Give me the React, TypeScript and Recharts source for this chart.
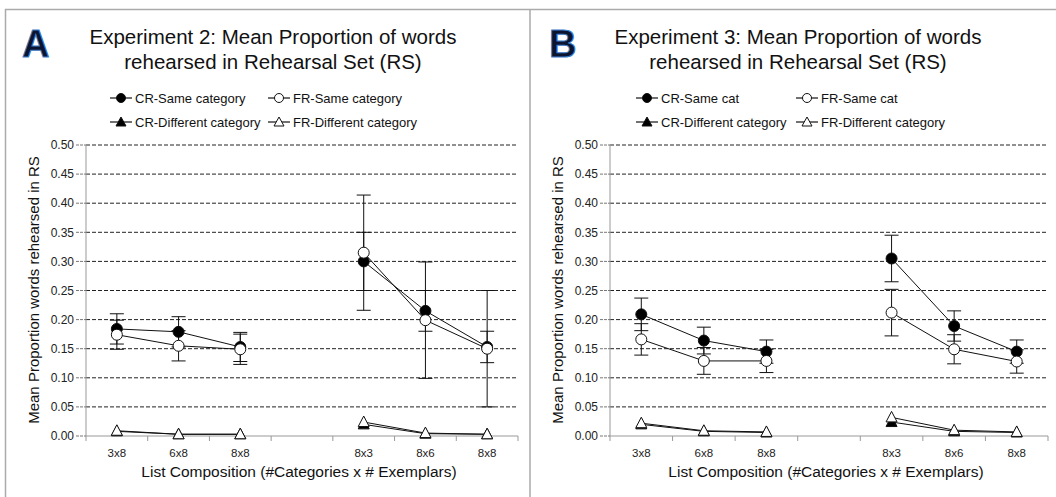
import React from "react";
import { LineChart, Line, XAxis, YAxis, CartesianGrid, ErrorBar } from "recharts";

const FONT = "'Liberation Sans', Arial, Helvetica, sans-serif";

// Categories (blank slot separates the two list-composition groups)
const categories = ["3x8", "6x8", "8x8", "", "8x3", "8x6", "8x8"];
const yTicks = [0, 0.05, 0.1, 0.15, 0.2, 0.25, 0.3, 0.35, 0.4, 0.45, 0.5];

// Experiment 2 (panel A)
const crSameA = [0.184, 0.179, 0.153, null, 0.3, 0.215, 0.153];
const crSameErrA = [0.026, 0.026, 0.025, null, 0.05, 0.035, 0.027];
const frSameA = [0.174, 0.155, 0.149, null, 0.315, 0.199, 0.15];
const frSameErrA = [0.025, 0.026, 0.026, null, 0.099, 0.1, 0.1];
const crDiffA = [0.008, 0.003, 0.003, null, 0.02, 0.004, 0.003];
const frDiffA = [0.009, 0.003, 0.003, null, 0.024, 0.005, 0.003];

// Experiment 3 (panel B)
const crSameB = [0.209, 0.164, 0.145, null, 0.305, 0.189, 0.145];
const crSameErrB = [0.028, 0.023, 0.02, null, 0.04, 0.026, 0.02];
const frSameB = [0.166, 0.129, 0.129, null, 0.212, 0.149, 0.128];
const frSameErrB = [0.027, 0.023, 0.02, null, 0.04, 0.025, 0.02];
const crDiffB = [0.02, 0.008, 0.006, null, 0.024, 0.008, 0.006];
const frDiffB = [0.022, 0.009, 0.007, null, 0.032, 0.01, 0.007];

const buildRows = (cr, crErr, fr, frErr, crd, frd) =>
  categories.map((c, i) => {
    const row: any = { slot: i, crSame: cr[i], frSame: fr[i], crDiff: crd[i], frDiff: frd[i] };
    if (crErr[i] != null) row.crSameErr = crErr[i];
    if (frErr[i] != null) row.frSameErr = frErr[i];
    return row;
  });

const rowsA = buildRows(crSameA, crSameErrA, frSameA, frSameErrA, crDiffA, frDiffA);
const rowsB = buildRows(crSameB, crSameErrB, frSameB, frSameErrB, crDiffB, frDiffB);

const makeCircle = (fill: string) => (props: any) => {
  const { cx, cy, index } = props;
  if (cx == null || cy == null || isNaN(cy)) return <g key={`e${index}`} />;
  return <circle key={`c${index}`} cx={cx} cy={cy} r={5.5} fill={fill} stroke="#111" strokeWidth={1} />;
};
const makeTri = (fill: string) => (props: any) => {
  const { cx, cy, index } = props;
  if (cx == null || cy == null || isNaN(cy)) return <g key={`e${index}`} />;
  const pts = `${cx},${cy - 6} ${cx - 5.5},${cy + 4.5} ${cx + 5.5},${cy + 4.5}`;
  return <polygon key={`t${index}`} points={pts} fill={fill} stroke="#111" strokeWidth={1} />;
};

const FilledDot = makeCircle("#000");
const OpenDot = makeCircle("#fff");
const FilledTri = makeTri("#000");
const OpenTri = makeTri("#fff");

const makeXTick = (half: number) => (props: any) => {
  const { x, y, payload, index } = props;
  const label = categories[Number(payload.value)] ?? "";
  return (
    <g>
      <line x1={x - half} y1={y} x2={x - half} y2={y + 5} stroke="#999" />
      {index === categories.length - 1 && (
        <line x1={x + half} y1={y} x2={x + half} y2={y + 5} stroke="#999" />
      )}
      <text x={x} y={y + 21} textAnchor="middle" fontSize={11.5} fill="#222" fontFamily={FONT}>
        {label}
      </text>
    </g>
  );
};

const Panel = ({ rows, left, width, yAxisWidth, right }: any) => {
  const plotW = width - yAxisWidth - right;
  const half = plotW / categories.length / 2;
  const XTick = makeXTick(half);
  return (
    <div style={{ position: "absolute", left, top: 0 }}>
      <LineChart
        width={width}
        height={497}
        data={rows}
        margin={{ top: 145, right, bottom: 31, left: 0 }}
      >
        <CartesianGrid
          horizontal={true}
          vertical={false}
          stroke="#222"
          strokeDasharray="4 2"
          horizontalValues={yTicks.slice(1)}
        />
        <XAxis
          dataKey="slot"
          type="category"
          scale="band"
          interval={0}
          height={30}
          tickSize={0}
          tickMargin={0}
          tickLine={false}
          axisLine={{ stroke: "#999" }}
          tick={XTick}
        />
        <YAxis
          width={yAxisWidth}
          domain={[0, 0.5]}
          ticks={yTicks}
          type="number"
          tickSize={10}
          tickMargin={2}
          tickLine={{ stroke: "#777", strokeDasharray: "3 1" }}
          axisLine={{ stroke: "#999" }}
          tickFormatter={(v: number) => v.toFixed(2)}
          tick={{ fontSize: 12, fill: "#222", fontFamily: FONT }}
        />
        <Line dataKey="crSame" stroke="#111" strokeWidth={1} dot={FilledDot} isAnimationActive={false} activeDot={false}>
          <ErrorBar dataKey="crSameErr" width={7} stroke="#111" strokeWidth={1} direction="y" />
        </Line>
        <Line dataKey="frSame" stroke="#111" strokeWidth={1} dot={OpenDot} isAnimationActive={false} activeDot={false}>
          <ErrorBar dataKey="frSameErr" width={7} stroke="#111" strokeWidth={1} direction="y" />
        </Line>
        <Line dataKey="crDiff" stroke="#111" strokeWidth={1} dot={FilledTri} isAnimationActive={false} activeDot={false} />
        <Line dataKey="frDiff" stroke="#111" strokeWidth={1} dot={OpenTri} isAnimationActive={false} activeDot={false} />
      </LineChart>
    </div>
  );
};

const LegendItem = ({ x, y, kind, label }: any) => {
  const mx = x + 11;
  let marker;
  if (kind === "fc") marker = <circle cx={mx} cy={y} r={4.5} fill="#000" stroke="#111" />;
  else if (kind === "oc") marker = <circle cx={mx} cy={y} r={4.5} fill="#fff" stroke="#111" />;
  else {
    const pts = `${mx},${y - 5} ${mx - 5},${y + 4} ${mx + 5},${y + 4}`;
    marker = <polygon points={pts} fill={kind === "ft" ? "#000" : "#fff"} stroke="#111" />;
  }
  return (
    <g>
      <line x1={x} y1={y} x2={x + 22} y2={y} stroke="#111" strokeWidth={1.2} />
      {marker}
      <text x={x + 25} y={y + 4.5} fontSize={13} fill="#111" fontFamily={FONT}>
        {label}
      </text>
    </g>
  );
};

const Overlay = () => (
  <svg width={1056} height={497} style={{ position: "absolute", left: 0, top: 0, pointerEvents: "none" }}>
    {/* frame */}
    <line x1={5} y1={9.5} x2={1056} y2={9.5} stroke="#aaa" strokeWidth={1.5} />
    <line x1={5.5} y1={9} x2={5.5} y2={497} stroke="#aaa" strokeWidth={1.5} />
    <line x1={530} y1={9} x2={530} y2={497} stroke="#aaa" strokeWidth={1.5} />

    {/* panel letters */}
    <text x={22} y={57} fontSize={38} fontWeight="bold" fill="#0b1530" stroke="#3d7cc9" strokeWidth={1} fontFamily={FONT}>A</text>
    <text x={549} y={57} fontSize={38} fontWeight="bold" fill="#0b1530" stroke="#3d7cc9" strokeWidth={1} fontFamily={FONT}>B</text>

    {/* titles */}
    <text x={273} y={44} textAnchor="middle" fontSize={20.5} fill="#111" fontFamily={FONT}>
      Experiment 2: Mean Proportion of words
    </text>
    <text x={273} y={69} textAnchor="middle" fontSize={20.5} fill="#111" fontFamily={FONT}>
      rehearsed in Rehearsal Set (RS)
    </text>
    <text x={798} y={44} textAnchor="middle" fontSize={20.5} fill="#111" fontFamily={FONT}>
      Experiment 3: Mean Proportion of words
    </text>
    <text x={798} y={69} textAnchor="middle" fontSize={20.5} fill="#111" fontFamily={FONT}>
      rehearsed in Rehearsal Set (RS)
    </text>

    {/* legends */}
    <LegendItem x={110} y={98} kind="fc" label="CR-Same category" />
    <LegendItem x={268} y={98} kind="oc" label="FR-Same category" />
    <LegendItem x={110} y={122} kind="ft" label="CR-Different category" />
    <LegendItem x={268} y={122} kind="ot" label="FR-Different category" />

    <LegendItem x={636} y={98} kind="fc" label="CR-Same cat" />
    <LegendItem x={796} y={98} kind="oc" label="FR-Same cat" />
    <LegendItem x={636} y={122} kind="ft" label="CR-Different category" />
    <LegendItem x={796} y={122} kind="ot" label="FR-Different category" />

    {/* axis titles */}
    <text transform="translate(33,290) rotate(-90)" textAnchor="middle" dominantBaseline="central" fontSize={15} fill="#111" fontFamily={FONT}>
      Mean Proportion words rehearsed in RS
    </text>
    <text transform="translate(557,290) rotate(-90)" textAnchor="middle" dominantBaseline="central" fontSize={15} fill="#111" fontFamily={FONT}>
      Mean Proportion words rehearsed in RS
    </text>
    <text x={299} y={477} textAnchor="middle" fontSize={15.5} fill="#111" fontFamily={FONT}>
      List Composition (#Categories x # Exemplars)
    </text>
    <text x={826} y={477} textAnchor="middle" fontSize={15.5} fill="#111" fontFamily={FONT}>
      List Composition (#Categories x # Exemplars)
    </text>
  </svg>
);

export default function App() {
  return (
    <div style={{ position: "absolute", left: 0, top: 0, width: 1056, height: 497, background: "#fff", fontFamily: FONT }}>
      <Panel rows={rowsA} left={0} width={530} yAxisWidth={86} right={12} />
      <Panel rows={rowsB} left={530} width={526} yAxisWidth={80} right={8} />
      <Overlay />
    </div>
  );
}
